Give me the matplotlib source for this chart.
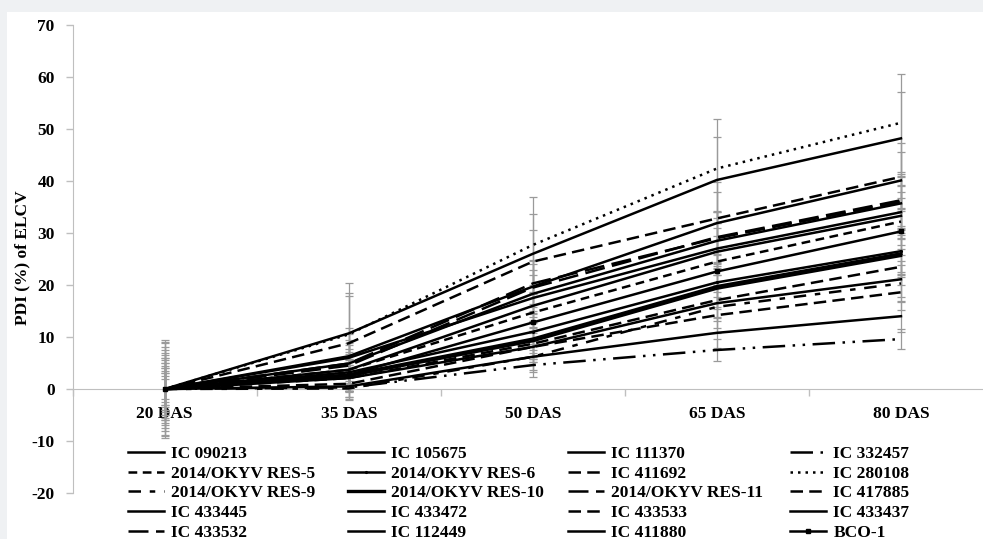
import matplotlib
matplotlib.use("Agg")
import matplotlib.pyplot as plt
from matplotlib.patches import Rectangle
import numpy as np

plt.rcParams['font.family'] = ['Liberation Serif', 'DejaVu Serif']
plt.rcParams['font.weight'] = 'bold'
plt.rcParams['axes.unicode_minus'] = False

categories = ["20 DAS", "35 DAS", "50 DAS", "65 DAS", "80 DAS"]

series_names = [
    "IC 090213", "IC 105675", "IC 111370", "IC 332457",
    "2014/OKYV RES-5", "2014/OKYV RES-6", "IC 411692", "IC 280108",
    "2014/OKYV RES-9", "2014/OKYV RES-10", "2014/OKYV RES-11", "IC 417885",
    "IC 433445", "IC 433472", "IC 433533", "IC 433437",
    "IC 433532", "IC 112449", "IC 411880", "BCO-1",
]

ic_090213 = [0, 10.7, 26.0, 40.2, 48.2]
ic_105675 = [0, 6.3, 19.7, 31.9, 40.1]
ic_111370 = [0, 4.9, 18.3, 28.5, 35.7]
ic_332457 = [0, 0.3, 4.6, 7.5, 9.6]
res_5 = [0, 3.7, 14.7, 24.5, 32.2]
res_6 = [0, 3.2, 11.0, 20.5, 26.5]
ic_411692 = [0, 8.8, 24.5, 32.8, 40.8]
ic_280108 = [0, 10.5, 27.7, 42.4, 51.2]
res_9 = [0, 0.1, 6.2, 15.8, 20.3]
res_10 = [0, 2.7, 9.6, 19.7, 26.0]
res_11 = [0, 4.9, 20.3, 29.0, 36.0]
ic_417885 = [0, 2.1, 8.7, 17.1, 23.5]
ic_433445 = [0, 3.7, 16.0, 26.4, 33.3]
ic_433472 = [0, 0.5, 6.2, 10.8, 14.0]
ic_433533 = [0, 1.0, 8.1, 14.2, 18.6]
ic_433437 = [0, 6.0, 17.5, 27.0, 34.0]
ic_433532 = [0, 4.5, 19.5, 29.2, 36.3]
ic_112449 = [0, 2.1, 8.1, 16.5, 21.1]
ic_411880 = [0, 2.5, 9.2, 19.3, 25.6]
bco_1 = [0, 2.7, 12.8, 22.6, 30.3]

values = [
    ic_090213, ic_105675, ic_111370, ic_332457,
    res_5, res_6, ic_411692, ic_280108,
    res_9, res_10, res_11, ic_417885,
    ic_433445, ic_433472, ic_433533, ic_433437,
    ic_433532, ic_112449, ic_411880, bco_1,
]

err_090213 = [9.5, 9.6, 7.7, 8.3, 9.0]
err_105675 = [8.8, 5.5, 5.0, 6.0, 5.5]
err_111370 = [7.5, 4.5, 4.5, 5.5, 5.0]
err_332457 = [2.0, 2.5, 2.3, 2.2, 1.9]
err_res_5 = [6.5, 4.0, 4.0, 5.0, 4.5]
err_res_6 = [5.0, 3.5, 3.5, 4.0, 4.0]
err_411692 = [8.0, 9.1, 6.0, 7.0, 6.5]
err_280108 = [9.0, 8.0, 9.3, 9.5, 9.4]
err_res_9 = [4.0, 2.0, 3.0, 4.0, 3.5]
err_res_10 = [3.5, 3.0, 3.5, 4.0, 4.0]
err_res_11 = [6.0, 4.0, 4.5, 5.0, 5.0]
err_417885 = [3.0, 2.5, 3.0, 3.5, 3.5]
err_433445 = [5.5, 3.5, 4.0, 4.5, 4.5]
err_433472 = [2.5, 2.0, 2.5, 3.0, 3.0]
err_433533 = [3.0, 2.5, 3.0, 3.5, 3.5]
err_433437 = [7.0, 4.5, 4.5, 5.0, 5.0]
err_433532 = [6.0, 4.0, 4.5, 5.0, 5.0]
err_112449 = [4.5, 2.5, 3.0, 3.5, 3.5]
err_411880 = [4.0, 3.0, 3.5, 4.0, 4.0]
err_bco_1 = [5.0, 3.0, 3.5, 4.0, 4.5]

errors = [
    err_090213, err_105675, err_111370, err_332457,
    err_res_5, err_res_6, err_411692, err_280108,
    err_res_9, err_res_10, err_res_11, err_417885,
    err_433445, err_433472, err_433533, err_433437,
    err_433532, err_112449, err_411880, err_bco_1,
]

solid = '-'
dash_med = (0, (5, 2.5))
dash_long = (0, (8, 3))
dash_short = (0, (3.5, 2.2))
dotted = (0, (1, 2))
dash_dot_dot = (0, (9, 3, 1, 3, 1, 3))
dash_long_short = (0, (5, 3.5, 2.2, 3.5))

styles = [
    solid, solid, solid, dash_dot_dot,
    dash_short, solid, dash_med, dotted,
    dash_long_short, solid, dash_long, dash_med,
    solid, solid, dash_med, solid,
    dash_long, solid, solid, solid,
]
widths = [1.8] * 20
widths[9] = 2.4
markers = [None] * 20
markers[19] = 's'
markers[5] = '.'

W, H = 983, 539
fig = plt.figure(figsize=(W / 100, H / 100), dpi=100)
fig.patch.set_facecolor('#eff1f3')
fig.add_artist(Rectangle((7 / W, 0), 1, 1 - 12 / H, transform=fig.transFigure,
                         facecolor='white', edgecolor='none', zorder=0))

left_px, right_px, top_px, bot_px = 72.7, 993, 25, 493
ax = fig.add_axes([left_px / W, 1 - bot_px / H, (right_px - left_px) / W, (bot_px - top_px) / H])
ax.set_facecolor('none')

x = np.arange(len(categories))
for vals, errs in zip(values, errors):
    ax.errorbar(x, vals, yerr=errs, fmt='none', ecolor='#9a9a9a', elinewidth=0.9,
                capsize=3, capthick=0.9, zorder=2)
for name, vals, ls, lw, mk in zip(series_names, values, styles, widths, markers):
    ax.plot(x, vals, color='black', linestyle=ls, linewidth=lw, marker=mk,
            markersize=2.5, label=name, zorder=3)

ax.set_xlim(-0.5, len(categories) - 0.5)
ax.set_ylim(-20, 70)
ax.set_yticks(np.arange(-20, 71, 10))
ax.tick_params(axis='y', direction='out', length=5, width=1, color='#bfbfbf',
               labelsize=12.5, pad=8)
for t in ax.get_yticklabels():
    t.set_fontweight('bold')

ax.set_xticks(np.arange(-0.5, len(categories), 1.0))
ax.set_xticklabels([])
ax.set_xticks(x, minor=True)
ax.set_xticklabels(categories, minor=True, fontweight='bold')
ax.tick_params(axis='x', which='major', direction='out', length=5, width=1, color='#bfbfbf')
ax.tick_params(axis='x', which='minor', length=0, pad=12, labelsize=12.5)

ax.spines['bottom'].set_position(('data', 0))
ax.spines['bottom'].set_color('#bfbfbf')
ax.spines['left'].set_color('#bfbfbf')
ax.spines['top'].set_visible(False)
ax.spines['right'].set_visible(False)

fig.text(22 / W, 1 - 258 / H, "PDI (%) of ELCV", rotation=90, ha='center', va='center',
         fontsize=12.5, fontweight='bold')

handles, labels = ax.get_legend_handles_labels()
col_x = [128, 348, 568, 790]
for c in range(4):
    idx = [r * 4 + c for r in range(5)]
    fig.legend([handles[i] for i in idx], [labels[i] for i in idx],
               loc='upper left', bbox_to_anchor=(col_x[c] / W, 1 - 446 / H),
               frameon=False, borderpad=0, borderaxespad=0,
               handlelength=2.1, handletextpad=0.4, labelspacing=0.2,
               prop={'weight': 'bold', 'size': 12.5})

fig.savefig('out.png', dpi=100, facecolor=fig.get_facecolor())
